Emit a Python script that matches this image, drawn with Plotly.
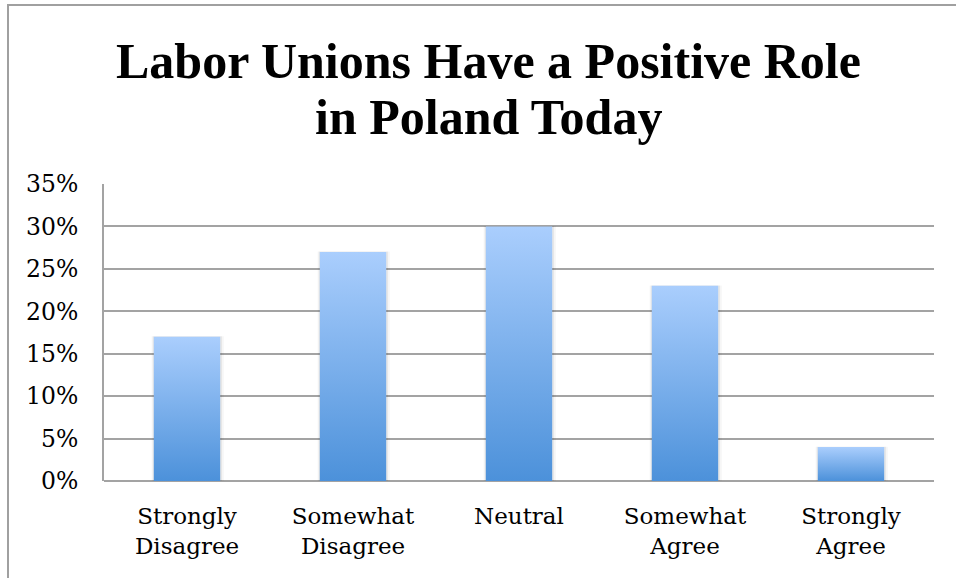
import plotly.graph_objects as go

# Survey responses
categories = ["Strongly<br>Disagree", "Somewhat<br>Disagree", "Neutral",
              "Somewhat<br>Agree", "Strongly<br>Agree"]
shares = [17, 27, 30, 23, 4]          # percent of respondents
y_ticks = [0, 5, 10, 15, 20, 25, 30, 35]
y_tick_labels = [f"{v}%" for v in y_ticks]
title_lines = ["Labor Unions Have a Positive Role", "in Poland Today"]

W, H = 956, 578
L, R, T, B = 104, 22, 184, 97
PW, PH = W - L - R, H - T - B
half_width = 0.2
grid_col = "#A3A3A3"
label_font = "DejaVu Serif"
title_font = "Liberation Serif"


def py(px):
    """Pixel row from the top of the page -> paper y."""
    return (H - B - px) / PH


def px_x(px):
    """Pixel column from the left of the page -> paper x."""
    return (px - L) / PW


fig = go.Figure()

for i, v in enumerate(shares):
    # soft drop shadow, two faint layers
    for pad, alpha in [(0.022, 0.035), (0.011, 0.06)]:
        fig.add_trace(go.Scatter(
            x=[i - half_width - pad * 0.6, i + half_width + pad, i + half_width + pad,
               i - half_width - pad * 0.6, i - half_width - pad * 0.6],
            y=[-pad * 20, -pad * 20, v + 0.05, v + 0.05, -pad * 20],
            fill="toself", fillcolor=f"rgba(0,0,0,{alpha})", line=dict(width=0),
            mode="lines", hoverinfo="skip", showlegend=False))
    # gradient-filled bar
    fig.add_trace(go.Scatter(
        x=[i - half_width, i + half_width, i + half_width, i - half_width, i - half_width],
        y=[0, 0, v, v, 0],
        fill="toself",
        fillgradient=dict(type="vertical",
                          colorscale=[[0, "#4C91DA"], [1, "#AACEFD"]],
                          start=0, stop=v),
        line=dict(width=0), mode="lines",
        name=categories[i].replace("<br>", " "), showlegend=False))

# outer frame
fig.add_shape(type="rect", xref="paper", yref="paper",
              x0=px_x(8), x1=px_x(W + 20), y0=py(H + 20), y1=py(5),
              line=dict(color="#A0A0A0", width=2), layer="below")

# two-line bold title
for text, yc in zip(title_lines, [61, 117]):
    fig.add_annotation(text=f"<b>{text}</b>", xref="paper", yref="paper",
                       x=px_x(488), y=py(yc), xanchor="center", yanchor="middle",
                       showarrow=False,
                       font=dict(family=title_font, size=50, color="black"))

fig.update_layout(
    width=W, height=H,
    margin=dict(l=L, r=R, t=T, b=B),
    paper_bgcolor="white", plot_bgcolor="white",
    xaxis=dict(range=[-0.5, 4.5], tickvals=list(range(len(categories))),
               ticktext=categories, showgrid=False, zeroline=False,
               showline=False, ticks="", fixedrange=True, ticklabelstandoff=19,
               tickfont=dict(family=label_font, size=23, color="black")),
    yaxis=dict(range=[0, 35], tickvals=y_ticks, ticktext=y_tick_labels,
               showgrid=True, gridcolor=grid_col, gridwidth=2,
               zeroline=True, zerolinecolor=grid_col, zerolinewidth=2,
               showline=True, linecolor=grid_col, linewidth=2,
               ticks="", ticklabelstandoff=19,
               tickfont=dict(family=label_font, size=23.5, color="black")),
)

fig.write_html("out.html")
